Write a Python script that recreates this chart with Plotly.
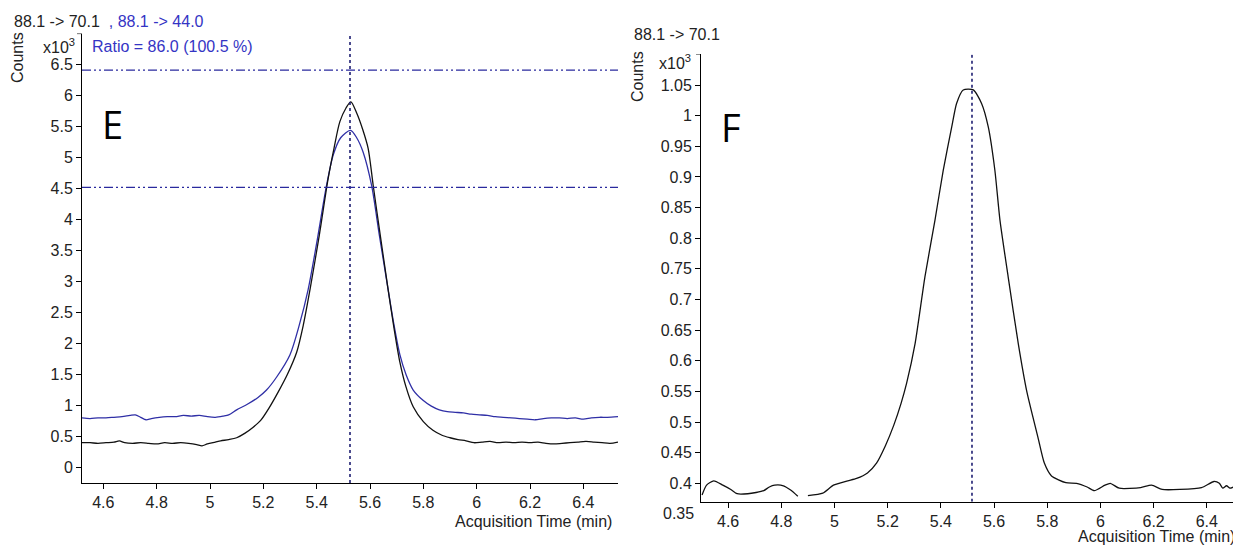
import plotly.graph_objects as go

# The page body adds an 8px margin, so the figure is drawn 8px in from the window corner.
OFF = 8
W, H = 1241 - OFF, 546 - OFF

# ---------------- data (values in x10^3 counts) ----------------
# Panel E: 88.1 -> 70.1 (black)
e_black_t = [4.52, 4.55, 4.58, 4.61, 4.64, 4.66, 4.68, 4.71, 4.74, 4.77, 4.80, 4.83, 4.86, 4.89,
             4.92, 4.95, 4.97, 4.99, 5.02, 5.04, 5.07, 5.10, 5.13, 5.162, 5.19, 5.22, 5.256, 5.29,
             5.325, 5.35, 5.375, 5.41, 5.443, 5.465, 5.487, 5.51, 5.528, 5.55, 5.573, 5.593, 5.612,
             5.64, 5.668, 5.69, 5.712, 5.735, 5.762, 5.80, 5.836, 5.87, 5.90, 5.93, 5.96, 5.99,
             6.02, 6.05, 6.08, 6.11, 6.14, 6.17, 6.20, 6.23, 6.26, 6.29, 6.32, 6.35, 6.38, 6.41,
             6.44, 6.47, 6.50, 6.53]
e_black_v = [0.40, 0.40, 0.39, 0.40, 0.41, 0.43, 0.40, 0.39, 0.40, 0.39, 0.38, 0.40, 0.39, 0.40,
             0.39, 0.37, 0.35, 0.38, 0.41, 0.43, 0.45, 0.48, 0.55, 0.65, 0.76, 0.95, 1.22, 1.50,
             1.86, 2.30, 2.87, 3.75, 4.66, 5.15, 5.58, 5.80, 5.90, 5.72, 5.45, 5.15, 4.55,
             3.70, 2.87, 2.25, 1.70, 1.30, 0.98, 0.74, 0.60, 0.52, 0.48, 0.45, 0.43, 0.40,
             0.41, 0.42, 0.40, 0.41, 0.40, 0.41, 0.40, 0.41, 0.39, 0.38, 0.39, 0.40, 0.41, 0.42,
             0.41, 0.40, 0.39, 0.41]

# Panel E: 88.1 -> 44.0 (blue)
e_blue_t = [4.52, 4.55, 4.58, 4.61, 4.64, 4.67, 4.70, 4.72, 4.74, 4.76, 4.78, 4.81, 4.84, 4.87,
            4.90, 4.93, 4.96, 4.99, 5.02, 5.05, 5.07, 5.10, 5.14, 5.18, 5.212, 5.25, 5.30, 5.335,
            5.368, 5.40, 5.437, 5.462, 5.49, 5.527, 5.55, 5.574, 5.606, 5.635, 5.668, 5.69, 5.712,
            5.735, 5.762, 5.80, 5.83, 5.86, 5.89, 5.92, 5.95, 5.98, 6.01, 6.04, 6.07, 6.10, 6.13,
            6.16, 6.19, 6.22, 6.25, 6.28, 6.31, 6.34, 6.37, 6.40, 6.43, 6.46, 6.49, 6.53]
e_blue_v = [0.80, 0.79, 0.80, 0.80, 0.81, 0.82, 0.84, 0.85, 0.81, 0.77, 0.79, 0.81, 0.82, 0.82,
            0.84, 0.83, 0.84, 0.82, 0.81, 0.83, 0.85, 0.93, 1.02, 1.13, 1.25, 1.46, 1.82, 2.30,
            2.87, 3.62, 4.55, 5.04, 5.32, 5.44, 5.32, 5.09, 4.55, 3.75, 2.87, 2.30, 1.82,
            1.50, 1.25, 1.08, 0.99, 0.93, 0.90, 0.89, 0.88, 0.86, 0.85, 0.84, 0.82, 0.81, 0.80,
            0.79, 0.78, 0.77, 0.79, 0.80, 0.80, 0.79, 0.80, 0.78, 0.80, 0.81, 0.81, 0.82]

# Panel F: 88.1 -> 70.1 (black), None marks the gap in the trace
f_t = [4.502, 4.519, 4.546, 4.580, 4.610, 4.634, 4.674, 4.705, 4.734, 4.755, 4.775, 4.808, 4.835,
       4.862, None, 4.900, 4.956, 4.996, 5.050, 5.083, 5.124, 5.158, 5.191, 5.223, 5.250, 5.271,
       5.303, 5.340, 5.378, 5.409, 5.441, 5.459, 5.484, 5.522, 5.553, 5.578, 5.603, 5.622,
       5.653, 5.691, 5.723, 5.745, 5.765, 5.789, 5.816, 5.870, 5.910, 5.950, 5.977, 6.017,
       6.037, 6.071, 6.151, 6.192, 6.232, 6.299, 6.380, 6.427, 6.447, 6.460, 6.474, 6.487, 6.500]
f_v = [0.381, 0.397, 0.404, 0.397, 0.390, 0.383, 0.383, 0.385, 0.388, 0.394, 0.397, 0.396, 0.389,
       0.379, None, 0.380, 0.384, 0.397, 0.404, 0.408, 0.417, 0.433, 0.461, 0.495, 0.530, 0.563,
       0.628, 0.737, 0.830, 0.911, 0.982, 1.020, 1.042, 1.042, 1.020, 0.982, 0.911, 0.830,
       0.737, 0.628, 0.550, 0.510, 0.475, 0.433, 0.412, 0.401, 0.400, 0.394, 0.388, 0.397,
       0.400, 0.392, 0.393, 0.397, 0.390, 0.390, 0.393, 0.403, 0.400, 0.392, 0.396, 0.392, 0.394]

e_rt = 5.525          # dotted retention-time marker, panel E
f_rt = 5.517          # dotted retention-time marker, panel F
e_limits = [6.41, 4.52]   # qualifier ratio limits (dash-dot)

x_ticks = [4.6, 4.8, 5.0, 5.2, 5.4, 5.6, 5.8, 6.0, 6.2, 6.4]
x_ticktext = ["4.6", "4.8", "5", "5.2", "5.4", "5.6", "5.8", "6", "6.2", "6.4"]
e_yticks = [0, 0.5, 1, 1.5, 2, 2.5, 3, 3.5, 4, 4.5, 5, 5.5, 6, 6.5]
e_yticktext = ["0", "0.5", "1", "1.5", "2", "2.5", "3", "3.5", "4", "4.5", "5", "5.5", "6", "6.5"]
f_yticks = [0.4, 0.45, 0.5, 0.55, 0.6, 0.65, 0.7, 0.75, 0.8, 0.85, 0.9, 0.95, 1.0, 1.05]
f_yticktext = ["0.4", "0.45", "0.5", "0.55", "0.6", "0.65", "0.7", "0.75", "0.8", "0.85", "0.9",
               "0.95", "1", "1.05"]

# ---------------- styling ----------------
FONT = "Liberation Sans, Arial, sans-serif"
BLACK = "#111111"
BLUE = "#2f2fa6"
TXTBLUE = "#3434c4"
MARK = "#1e1e72"


def px(x):
    return (x - OFF) / W


def py(y):
    return 1 - (y - OFF) / H


fig = go.Figure()
fig.add_trace(go.Scatter(x=e_blue_t, y=e_blue_v, mode="lines", xaxis="x", yaxis="y",
                         line=dict(color=BLUE, width=1.3, shape="spline", smoothing=0.8)))
fig.add_trace(go.Scatter(x=e_black_t, y=e_black_v, mode="lines", xaxis="x", yaxis="y",
                         line=dict(color=BLACK, width=1.3, shape="spline", smoothing=0.8)))
fig.add_trace(go.Scatter(x=f_t, y=f_v, mode="lines", xaxis="x2", yaxis="y2", connectgaps=False,
                         line=dict(color=BLACK, width=1.3, shape="spline", smoothing=0.6)))

axis_common = dict(showline=True, linecolor="black", linewidth=1, ticks="outside", ticklen=5,
                   tickcolor="black", showgrid=False, zeroline=False, mirror=False,
                   tickfont=dict(family=FONT, size=16, color="#222222"))

e_xr = [4.52, 6.53]
e_yr = [-0.25, 7.0]
f_xr = [4.498, 6.521]
f_yr = [0.37, 1.1]

fig.update_layout(
    width=W, height=H, margin=dict(l=0, r=0, t=0, b=0, autoexpand=False),
    paper_bgcolor="white", plot_bgcolor="white", showlegend=False,
    xaxis=dict(domain=[px(82), px(618)], range=e_xr, anchor="y",
               tickvals=x_ticks, ticktext=x_ticktext, **axis_common),
    yaxis=dict(domain=[py(483), py(33.6)], range=e_yr, anchor="x",
               tickvals=e_yticks, ticktext=e_yticktext, **axis_common),
    xaxis2=dict(domain=[px(701), px(1239)], range=f_xr, anchor="y2",
                tickvals=x_ticks, ticktext=x_ticktext, **axis_common),
    yaxis2=dict(domain=[py(501.7), py(54.4)], range=f_yr, anchor="x2",
                tickvals=f_yticks, ticktext=f_yticktext, **axis_common),
)

shapes = [
    dict(type="line", xref="x", yref="y", x0=e_rt, x1=e_rt, y0=e_yr[0], y1=e_yr[1],
         line=dict(color=MARK, width=1.6, dash="dot")),
    dict(type="line", xref="x2", yref="y2", x0=f_rt, x1=f_rt, y0=f_yr[0], y1=f_yr[1],
         line=dict(color=MARK, width=1.6, dash="dot")),
    # small unlabeled tick stubs at the top of each y axis
    dict(type="line", xref="paper", yref="y", x0=px(77), x1=px(82), y0=e_yr[1], y1=e_yr[1],
         line=dict(color="black", width=1)),
    dict(type="line", xref="paper", yref="y2", x0=px(696), x1=px(701), y0=f_yr[1], y1=f_yr[1],
         line=dict(color="black", width=1)),
]
for lim in e_limits:
    shapes.append(dict(type="line", xref="x", yref="y", x0=e_xr[0], x1=e_xr[1], y0=lim, y1=lim,
                       line=dict(color="#2a2a9e", width=1.4, dash="9px,3px,2px,3px,2px,3px")))
fig.update_layout(shapes=shapes)

txt = dict(family=FONT, size=16, color="#222222")
ann = [
    dict(x=px(12), y=py(21), xref="paper", yref="paper", xanchor="left", yanchor="middle",
         showarrow=False, font=txt,
         text="88.1 -&gt; 70.1&nbsp;&nbsp;<span style='color:%s'>, 88.1 -&gt; 44.0</span>" % TXTBLUE),
    dict(x=px(77), y=py(46), xref="paper", yref="paper", xanchor="right", yanchor="middle",
         showarrow=False, font=txt, text="x10<sup>3</sup>"),
    dict(x=px(18), y=py(58), xref="paper", yref="paper", xanchor="center", yanchor="middle",
         showarrow=False, font=txt, text="Counts", textangle=-90),
    dict(x=px(90), y=py(47), xref="paper", yref="paper", xanchor="left", yanchor="middle",
         showarrow=False, font=dict(family=FONT, size=16, color=TXTBLUE),
         text="Ratio = 86.0 (100.5 %)"),
    dict(x=px(614), y=py(521), xref="paper", yref="paper", xanchor="right", yanchor="middle",
         showarrow=False, font=txt, text="Acquisition Time (min)"),
    dict(x=px(112), y=py(124), xref="paper", yref="paper", xanchor="center", yanchor="middle",
         showarrow=False, font=dict(family="Open Sans, sans-serif", size=38, color="black"),
         text="E"),
    # panel F
    dict(x=px(632), y=py(35), xref="paper", yref="paper", xanchor="left", yanchor="middle",
         showarrow=False, font=txt, text="88.1 -&gt; 70.1"),
    dict(x=px(693), y=py(62), xref="paper", yref="paper", xanchor="right", yanchor="middle",
         showarrow=False, font=txt, text="x10<sup>3</sup>"),
    dict(x=px(637), y=py(77), xref="paper", yref="paper", xanchor="center", yanchor="middle",
         showarrow=False, font=txt, text="Counts", textangle=-90),
    dict(x=px(696), y=py(513), xref="paper", yref="paper", xanchor="right", yanchor="middle",
         showarrow=False, font=txt, text="0.35"),
    dict(x=px(1237), y=py(536), xref="paper", yref="paper", xanchor="right", yanchor="middle",
         showarrow=False, font=txt, text="Acquisition Time (min)"),
    dict(x=px(731), y=py(127), xref="paper", yref="paper", xanchor="center", yanchor="middle",
         showarrow=False, font=dict(family="Open Sans, sans-serif", size=38, color="black"),
         text="F"),
]
fig.update_layout(annotations=ann)

fig.write_html("out.html")
